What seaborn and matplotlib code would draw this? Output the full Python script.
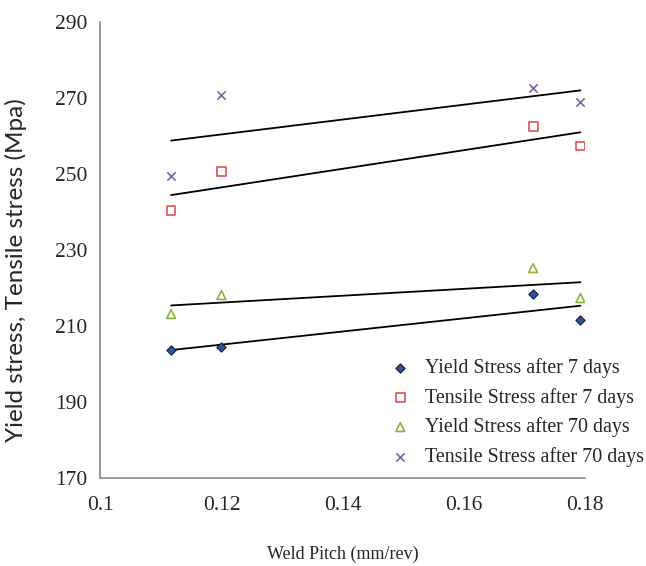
import numpy as np
import pandas as pd
import matplotlib
matplotlib.use("Agg")
import matplotlib.pyplot as plt
import seaborn as sns

# Yield / tensile stress vs weld pitch

weld_pitch = [0.1117, 0.1200, 0.1714, 0.1792]

yield_7  = [203.7, 204.6, 218.4, 211.6]
tensile_7 = [240.5, 250.6, 262.6, 257.4]
yield_70 = [213.2, 218.2, 225.3, 217.4]
tensile_70 = [249.5, 270.8, 272.6, 268.9]

labels = ["Yield Stress after 7 days", "Tensile Stress after 7 days",
          "Yield Stress after 70 days", "Tensile Stress after 70 days"]

x_ticks = [0.1, 0.12, 0.14, 0.16, 0.18]
x_tick_labels = ["0.1", "0.12", "0.14", "0.16", "0.18"]
y_ticks = [170, 190, 210, 230, 250, 270, 290]

sns.set_style("white")
plt.rcParams["font.family"] = ["Liberation Serif", "DejaVu Serif"]

series = [yield_7, tensile_7, yield_70, tensile_70]
df = pd.DataFrame({
    "pitch": weld_pitch * 4,
    "stress": sum(series, []),
    "series": [lab for lab in labels for _ in weld_pitch],
})

styles = {
    labels[0]: dict(marker="D", s=22, color="#2F5597", edgecolor="#0B1A3A", linewidth=0.8),
    labels[1]: dict(marker="s", s=40, facecolor="none", edgecolor="#D9534F", linewidth=1.2),
    labels[2]: dict(marker="^", s=40, facecolor="none", edgecolor="#8DB33F", linewidth=1.2),
    labels[3]: dict(marker="x", s=36, color="#8064A2", linewidth=1.2),
}

fig = plt.figure(figsize=(6.46, 5.66), dpi=100)
ax = fig.add_axes([0.155, 0.155, 0.751, 0.806])

# linear trendlines, one per series
for lab in labels:
    sub = df[df["series"] == lab]
    sns.regplot(data=sub, x="pitch", y="stress", scatter=False, ci=None,
                truncate=True, ax=ax, line_kws=dict(color="black", linewidth=1.3))
for lab in labels:
    sub = df[df["series"] == lab]
    ax.scatter(sub["pitch"], sub["stress"], label=lab, zorder=3, **styles[lab])

ax.set_xlim(0.1, 0.18)
ax.set_ylim(170, 290)
ax.set_xticks(x_ticks)
ax.set_xticklabels(x_tick_labels)
ax.set_yticks(y_ticks)
ax.tick_params(axis="both", length=0, labelsize=15.5)
ax.tick_params(axis="x", pad=13)
ax.tick_params(axis="y", pad=9)

for side in ["top", "right"]:
    ax.spines[side].set_visible(False)
for side in ["left", "bottom"]:
    ax.spines[side].set_color("#888888")
    ax.spines[side].set_linewidth(1.2)

ax.set_xlabel("Weld Pitch (mm/rev)", fontsize=13, labelpad=22)
ax.set_ylabel("Yield stress, Tensile stress (Mpa)", fontsize=17.5,
              family=["Lato", "DejaVu Sans"])
ax.yaxis.set_label_coords(-0.15, 0.456)

ax.legend(loc="lower left", bbox_to_anchor=(0.598, 0.025), frameon=False,
          fontsize=14.4, handletextpad=0.75, labelspacing=0.48,
          handlelength=1.0, borderpad=0, borderaxespad=0)

fig.savefig("out.png", dpi=100)
plt.close(fig)
